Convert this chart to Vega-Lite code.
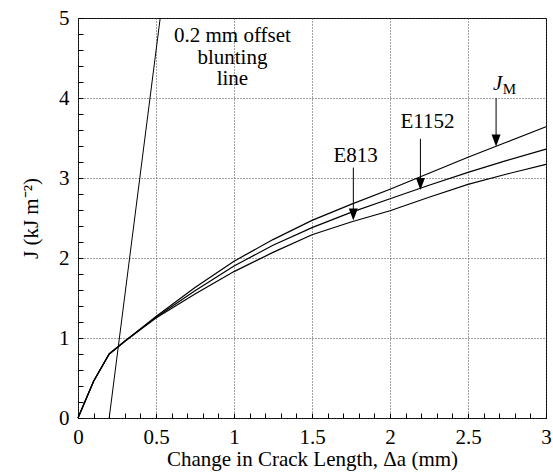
{
  "$schema": "https://vega.github.io/schema/vega-lite/v6.json",
  "width": 468,
  "height": 400,
  "autosize": {"type": "none"},
  "padding": {"left": 78, "top": 18, "right": 7, "bottom": 54},
  "background": "white",
  "config": {
    "view": {"stroke": "black", "strokeWidth": 1}
  },
  "datasets": {
    "curves": [
      {"x": 0, "J": 0, "series": "JM"}, {"x": 0.1, "J": 0.46, "series": "JM"}, {"x": 0.2, "J": 0.8, "series": "JM"}, {"x": 0.3, "J": 0.96, "series": "JM"}, {"x": 0.5, "J": 1.27, "series": "JM"}, {"x": 0.75, "J": 1.63, "series": "JM"}, {"x": 1, "J": 1.96, "series": "JM"}, {"x": 1.25, "J": 2.23, "series": "JM"}, {"x": 1.5, "J": 2.47, "series": "JM"}, {"x": 1.75, "J": 2.67, "series": "JM"}, {"x": 2, "J": 2.86, "series": "JM"}, {"x": 2.25, "J": 3.06, "series": "JM"}, {"x": 2.5, "J": 3.26, "series": "JM"}, {"x": 2.75, "J": 3.45, "series": "JM"}, {"x": 3, "J": 3.64, "series": "JM"},
      {"x": 0, "J": 0, "series": "E1152"}, {"x": 0.1, "J": 0.46, "series": "E1152"}, {"x": 0.2, "J": 0.8, "series": "E1152"}, {"x": 0.3, "J": 0.96, "series": "E1152"}, {"x": 0.5, "J": 1.26, "series": "E1152"}, {"x": 0.75, "J": 1.59, "series": "E1152"}, {"x": 1, "J": 1.9, "series": "E1152"}, {"x": 1.25, "J": 2.16, "series": "E1152"}, {"x": 1.5, "J": 2.38, "series": "E1152"}, {"x": 1.75, "J": 2.57, "series": "E1152"}, {"x": 2, "J": 2.74, "series": "E1152"}, {"x": 2.25, "J": 2.91, "series": "E1152"}, {"x": 2.5, "J": 3.07, "series": "E1152"}, {"x": 2.75, "J": 3.22, "series": "E1152"}, {"x": 3, "J": 3.36, "series": "E1152"},
      {"x": 0, "J": 0, "series": "E813"}, {"x": 0.1, "J": 0.46, "series": "E813"}, {"x": 0.2, "J": 0.8, "series": "E813"}, {"x": 0.3, "J": 0.96, "series": "E813"}, {"x": 0.5, "J": 1.25, "series": "E813"}, {"x": 0.75, "J": 1.55, "series": "E813"}, {"x": 1, "J": 1.83, "series": "E813"}, {"x": 1.25, "J": 2.07, "series": "E813"}, {"x": 1.5, "J": 2.29, "series": "E813"}, {"x": 1.75, "J": 2.45, "series": "E813"}, {"x": 2, "J": 2.59, "series": "E813"}, {"x": 2.25, "J": 2.76, "series": "E813"}, {"x": 2.5, "J": 2.92, "series": "E813"}, {"x": 2.75, "J": 3.05, "series": "E813"}, {"x": 3, "J": 3.17, "series": "E813"}
    ],
    "blunt": [{"x": 0.2, "J": 0}, {"x": 0.527, "J": 5}],
    "arrows": [
      {"x": 2.68, "J": 4.0, "J2": 3.47, "label": "JM"},
      {"x": 2.195, "J": 3.49, "J2": 2.925, "label": "E1152"},
      {"x": 1.765, "J": 3.13, "J2": 2.545, "label": "E813"}
    ],
    "heads": [
      {"x": 2.68, "J": 3.47, "label": "JM"},
      {"x": 2.195, "J": 2.925, "label": "E1152"},
      {"x": 1.765, "J": 2.545, "label": "E813"}
    ],
    "labels": [
      {"x": 2.24, "J": 3.62, "text": "E1152"},
      {"x": 1.78, "J": 3.2, "text": "E813"},
      {"x": 0.99, "J": 4.7, "text": "0.2 mm offset"},
      {"x": 0.99, "J": 4.43, "text": "blunting"},
      {"x": 0.99, "J": 4.16, "text": "line"}
    ],
    "jlab": [{"x": 2.69, "J": 4.1, "text": "J"}],
    "mlab": [{"x": 2.765, "J": 4.05, "text": "M"}]
  },
  "encoding": {
    "x": {"field": "x", "type": "quantitative", "scale": {"domain": [0, 3], "nice": false, "zero": false},
      "axis": {"orient": "bottom", "values": [0,0.1,0.2,0.3,0.4,0.5,0.6,0.7,0.8,0.9,1,1.1,1.2,1.3,1.4,1.5,1.6,1.7,1.8,1.9,2,2.1,2.2,2.3,2.4,2.5,2.6,2.7,2.8,2.9,3],
        "labelExpr": "abs(datum.value*2 - round(datum.value*2)) < 0.001 ? format(datum.value, '~g') : ''",
        "ticks": true, "tickSize": -5, "tickColor": "black", "tickWidth": 1,
        "labelPadding": 13, "labelFont": "Liberation Serif", "labelFontSize": 21, "labelColor": "black", "labelFlush": false, "labelOverlap": false,
        "grid": true, "gridColor": "#444", "gridDash": [1, 2], "gridWidth": 1,
        "gridOpacity": {"condition": {"test": "abs(datum.value*2 - round(datum.value*2)) < 0.001", "value": 1}, "value": 0},
        "title": "Change in Crack Length, Δa (mm)", "titleFont": "Liberation Serif", "titleFontSize": 21, "titleFontWeight": "normal", "titleColor": "black", "titlePadding": 1, "domain": false}},
    "y": {"field": "J", "type": "quantitative", "scale": {"domain": [0, 5], "nice": false, "zero": false},
      "axis": {"orient": "left", "values": [0,0.2,0.4,0.6,0.8,1,1.2,1.4,1.6,1.8,2,2.2,2.4,2.6,2.8,3,3.2,3.4,3.6,3.8,4,4.2,4.4,4.6,4.8,5],
        "labelExpr": "abs(datum.value - round(datum.value)) < 0.001 ? format(datum.value, '~g') : ''",
        "ticks": true, "tickSize": -5, "tickColor": "black", "tickWidth": 1,
        "labelPadding": 14, "labelFont": "Liberation Serif", "labelFontSize": 21, "labelColor": "black", "labelFlush": false, "labelOverlap": false,
        "grid": true, "gridColor": "#444", "gridDash": [1, 2], "gridWidth": 1,
        "gridOpacity": {"condition": {"test": "abs(datum.value - round(datum.value)) < 0.001", "value": 1}, "value": 0},
        "title": "J (kJ m⁻²)", "titleFont": "Liberation Serif", "titleFontSize": 21, "titleFontWeight": "normal", "titleColor": "black", "titlePadding": 17, "domain": false}}
  },
  "layer": [
    {
      "data": {"name": "curves"},
      "mark": {"type": "line", "color": "black", "strokeWidth": 1.2},
      "encoding": {"detail": {"field": "series"}}
    },
    {
      "data": {"name": "blunt"},
      "mark": {"type": "line", "color": "black", "strokeWidth": 1},
      "encoding": {}
    },
    {
      "data": {"name": "arrows"},
      "mark": {"type": "rule", "color": "black", "strokeWidth": 1},
      "encoding": {"y2": {"field": "J2"}}
    },
    {
      "data": {"name": "heads"},
      "mark": {"type": "point", "shape": "M-0.75,-1L0.75,-1L0,1Z", "size": 144, "filled": true, "color": "black", "opacity": 1},
      "encoding": {}
    },
    {
      "data": {"name": "labels"},
      "mark": {"type": "text", "font": "Liberation Serif", "fontSize": 21, "color": "black", "align": "center", "baseline": "alphabetic"},
      "encoding": {"text": {"field": "text"}}
    },
    {
      "data": {"name": "jlab"},
      "mark": {"type": "text", "font": "Liberation Serif", "fontSize": 21, "fontStyle": "italic", "color": "black", "align": "center", "baseline": "alphabetic"},
      "encoding": {"text": {"field": "text"}}
    },
    {
      "data": {"name": "mlab"},
      "mark": {"type": "text", "font": "Liberation Serif", "fontSize": 15, "color": "black", "align": "center", "baseline": "alphabetic"},
      "encoding": {"text": {"field": "text"}}
    }
  ]
}
